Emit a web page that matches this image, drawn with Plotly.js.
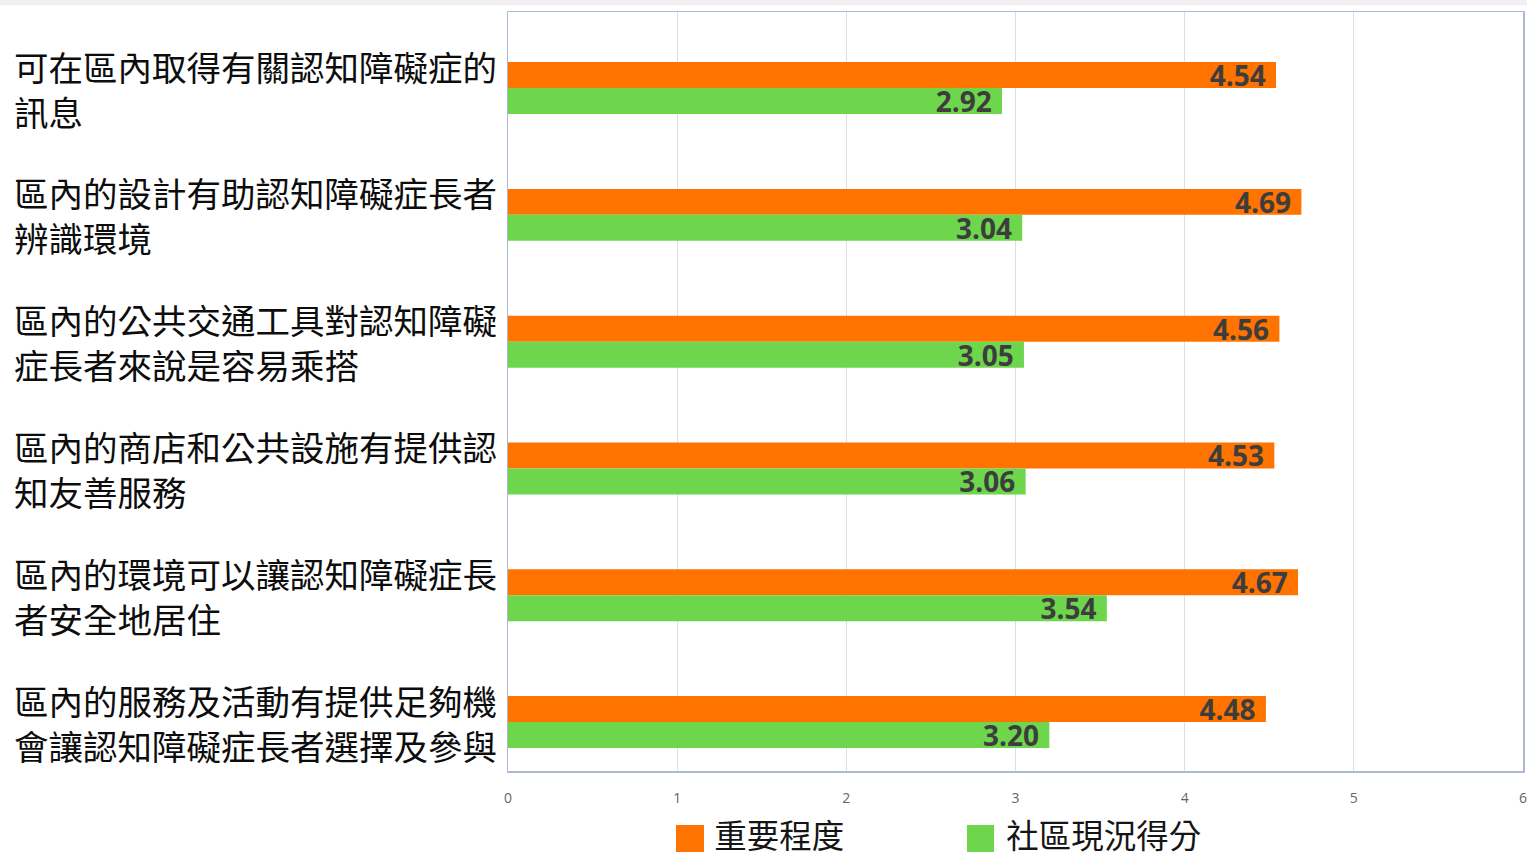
<!DOCTYPE html>
<html>
<head>
<meta charset="utf-8">
<script src="https://cdn.plot.ly/plotly-3.0.1.min.js"></script>
<style>html,body{margin:0;padding:0;background:#fff;}#chart{width:1527px;height:859px;}</style>
</head>
<body>
<div id="chart"></div>
<script>
const categories = [
  "可在區內取得有關認知障礙症的<br>訊息",
  "區內的設計有助認知障礙症長者<br>辨識環境",
  "區內的公共交通工具對認知障礙<br>症長者來說是容易乘搭",
  "區內的商店和公共設施有提供認<br>知友善服務",
  "區內的環境可以讓認知障礙症長<br>者安全地居住",
  "區內的服務及活動有提供足夠機<br>會讓認知障礙症長者選擇及參與"
];
const seriesNames = ["重要程度", "社區現況得分"];
const importance = [4.54, 4.69, 4.56, 4.53, 4.67, 4.48];
const currentScore = [2.92, 3.04, 3.05, 3.06, 3.54, 3.20];
const xTicks = [0, 1, 2, 3, 4, 5, 6];
const seriesColors = ['#ff7300', '#6dd64d'];

const cjk = '"Noto Sans CJK TC", "Noto Sans CJK SC", sans-serif';
const numFont = '"Open Sans", "Liberation Sans", sans-serif';

function barTrace(vals, name, color) {
  return {
    type: 'bar', orientation: 'h', name: name,
    x: vals, y: categories,
    marker: {color: color},
    text: vals.map(v => v.toFixed(2) + '\u00a0'),
    textposition: 'inside', insidetextanchor: 'end', constraintext: 'none',
    textfont: {family: numFont, size: 28, color: '#3d3d3d', weight: 'bold'},
    hoverinfo: 'x+name'
  };
}

const data = [
  barTrace(importance, seriesNames[0], seriesColors[0]),
  barTrace(currentScore, seriesNames[1], seriesColors[1])
];

const annotations = categories.map(c => ({
  x: -0.4882, xref: 'paper', xanchor: 'left',
  y: c, yref: 'y', yanchor: 'middle',
  text: c, align: 'left', showarrow: false,
  font: {family: cjk, size: 34.5, color: '#0d0d0d'}
}));

// enlarged legend swatches (decoration over legend symbols)
const swatchShapes = [[676, 704], [967, 994]].map((px, i) => ({
  type: 'rect', xref: 'paper', yref: 'paper',
  x0: (px[0] - 508) / 1015, x1: (px[1] - 508) / 1015,
  y0: -(852 - 771) / 759, y1: -(825 - 771) / 759,
  fillcolor: seriesColors[i], line: {width: 0}
}));

const layout = {
  width: 1527, height: 859,
  margin: {l: 508, r: 4, t: 12, b: 88, autoexpand: false},
  paper_bgcolor: '#ffffff', plot_bgcolor: '#ffffff',
  barmode: 'group', bargap: 0.59, bargroupgap: 0,
  xaxis: {
    range: [0, 6], tickvals: xTicks, ticktext: xTicks.map(String),
    showgrid: true, gridcolor: '#dcdfe8', gridwidth: 1,
    showline: true, mirror: true, linecolor: '#aeb8d6', linewidth: 1.5,
    zeroline: false, ticks: '', ticklabelstandoff: 14, ticklabeloverflow: 'allow',
    tickfont: {family: numFont, size: 14, color: '#666666'}
  },
  yaxis: {
    autorange: false, range: [5.386, -0.6],
    showticklabels: false, showgrid: false,
    showline: true, mirror: true, linecolor: '#aeb8d6', linewidth: 1.5, ticks: ''
  },
  showlegend: true,
  legend: {
    orientation: 'h', x: 0.1637, xanchor: 'left', y: -0.0856, yanchor: 'middle',
    font: {family: cjk, size: 32.5, color: '#151515'}, bgcolor: 'rgba(0,0,0,0)',
    traceorder: 'normal', entrywidth: 247, entrywidthmode: 'pixels',
    itemwidth: 30
  },
  annotations: annotations,
  shapes: [{
    type: 'rect', xref: 'paper', yref: 'paper', x0: -0.6, x1: 1.1,
    y0: 1.0085, y1: 1.03, fillcolor: '#f3eff0', line: {width: 0}, layer: 'below'
  }].concat(swatchShapes)
};

Plotly.newPlot('chart', data, layout, {displayModeBar: false, staticPlot: true});
</script>
</body>
</html>
